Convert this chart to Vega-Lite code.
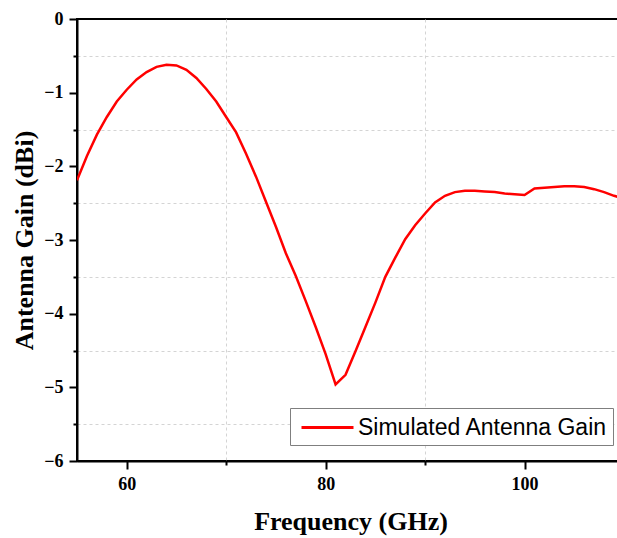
{
  "$schema": "https://vega.github.io/schema/vega-lite/v6.json",
  "autosize": "none",
  "padding": {"left": 77, "top": 19, "right": 0, "bottom": 77},
  "width": 547,
  "height": 442,
  "background": "white",
  "config": {
    "view": {"stroke": "black", "strokeWidth": 2},
    "axis": {
      "domainColor": "black",
      "domainWidth": 2,
      "tickColor": "black",
      "tickWidth": 2,
      "labelFont": "Liberation Serif",
      "labelFontWeight": "bold",
      "labelFontSize": 18,
      "labelColor": "black",
      "titleFont": "Liberation Serif",
      "titleFontWeight": "bold",
      "titleFontSize": 26,
      "titleColor": "black",
      "gridColor": "#d4d4d4",
      "gridDash": [3, 3],
      "gridWidth": 1
    }
  },
  "data": {
    "values": [
      {"f": 55, "g": -2.19, "s": "Simulated Antenna Gain"},
      {"f": 56, "g": -1.86, "s": "Simulated Antenna Gain"},
      {"f": 57, "g": -1.57, "s": "Simulated Antenna Gain"},
      {"f": 58, "g": -1.33, "s": "Simulated Antenna Gain"},
      {"f": 59, "g": -1.12, "s": "Simulated Antenna Gain"},
      {"f": 60, "g": -0.96, "s": "Simulated Antenna Gain"},
      {"f": 61, "g": -0.82, "s": "Simulated Antenna Gain"},
      {"f": 62, "g": -0.72, "s": "Simulated Antenna Gain"},
      {"f": 63, "g": -0.65, "s": "Simulated Antenna Gain"},
      {"f": 64, "g": -0.62, "s": "Simulated Antenna Gain"},
      {"f": 65, "g": -0.63, "s": "Simulated Antenna Gain"},
      {"f": 66, "g": -0.69, "s": "Simulated Antenna Gain"},
      {"f": 67, "g": -0.80, "s": "Simulated Antenna Gain"},
      {"f": 68, "g": -0.95, "s": "Simulated Antenna Gain"},
      {"f": 69, "g": -1.12, "s": "Simulated Antenna Gain"},
      {"f": 70, "g": -1.33, "s": "Simulated Antenna Gain"},
      {"f": 71, "g": -1.54, "s": "Simulated Antenna Gain"},
      {"f": 72, "g": -1.83, "s": "Simulated Antenna Gain"},
      {"f": 73, "g": -2.14, "s": "Simulated Antenna Gain"},
      {"f": 74, "g": -2.48, "s": "Simulated Antenna Gain"},
      {"f": 75, "g": -2.82, "s": "Simulated Antenna Gain"},
      {"f": 76, "g": -3.18, "s": "Simulated Antenna Gain"},
      {"f": 77, "g": -3.49, "s": "Simulated Antenna Gain"},
      {"f": 78, "g": -3.83, "s": "Simulated Antenna Gain"},
      {"f": 79, "g": -4.18, "s": "Simulated Antenna Gain"},
      {"f": 80, "g": -4.55, "s": "Simulated Antenna Gain"},
      {"f": 81, "g": -4.96, "s": "Simulated Antenna Gain"},
      {"f": 82, "g": -4.83, "s": "Simulated Antenna Gain"},
      {"f": 83, "g": -4.51, "s": "Simulated Antenna Gain"},
      {"f": 84, "g": -4.18, "s": "Simulated Antenna Gain"},
      {"f": 85, "g": -3.85, "s": "Simulated Antenna Gain"},
      {"f": 86, "g": -3.50, "s": "Simulated Antenna Gain"},
      {"f": 87, "g": -3.24, "s": "Simulated Antenna Gain"},
      {"f": 88, "g": -2.99, "s": "Simulated Antenna Gain"},
      {"f": 89, "g": -2.80, "s": "Simulated Antenna Gain"},
      {"f": 90, "g": -2.64, "s": "Simulated Antenna Gain"},
      {"f": 91, "g": -2.49, "s": "Simulated Antenna Gain"},
      {"f": 92, "g": -2.40, "s": "Simulated Antenna Gain"},
      {"f": 93, "g": -2.35, "s": "Simulated Antenna Gain"},
      {"f": 94, "g": -2.33, "s": "Simulated Antenna Gain"},
      {"f": 95, "g": -2.33, "s": "Simulated Antenna Gain"},
      {"f": 96, "g": -2.34, "s": "Simulated Antenna Gain"},
      {"f": 97, "g": -2.35, "s": "Simulated Antenna Gain"},
      {"f": 98, "g": -2.37, "s": "Simulated Antenna Gain"},
      {"f": 99, "g": -2.38, "s": "Simulated Antenna Gain"},
      {"f": 100, "g": -2.39, "s": "Simulated Antenna Gain"},
      {"f": 101, "g": -2.30, "s": "Simulated Antenna Gain"},
      {"f": 102, "g": -2.29, "s": "Simulated Antenna Gain"},
      {"f": 103, "g": -2.28, "s": "Simulated Antenna Gain"},
      {"f": 104, "g": -2.27, "s": "Simulated Antenna Gain"},
      {"f": 105, "g": -2.27, "s": "Simulated Antenna Gain"},
      {"f": 106, "g": -2.28, "s": "Simulated Antenna Gain"},
      {"f": 107, "g": -2.31, "s": "Simulated Antenna Gain"},
      {"f": 108, "g": -2.35, "s": "Simulated Antenna Gain"},
      {"f": 109, "g": -2.40, "s": "Simulated Antenna Gain"},
      {"f": 110, "g": -2.44, "s": "Simulated Antenna Gain"}
    ]
  },
  "mark": {"type": "line", "strokeWidth": 2.5, "clip": true},
  "encoding": {
    "x": {
      "field": "f",
      "type": "quantitative",
      "scale": {"domain": [55, 110], "nice": false, "zero": false},
      "axis": {
        "title": "Frequency (GHz)",
        "values": [60, 70, 80, 90, 100, 110],
        "labelExpr": "datum.value % 20 == 0 ? datum.label : ''",
        "tickSize": {"expr": "datum.value % 20 == 0 ? 8 : 4"},
        "grid": true,
        "gridOpacity": {"expr": "datum.value % 20 == 10 ? 1 : 0"},
        "labelPadding": 6,
        "titlePadding": 15
      }
    },
    "y": {
      "field": "g",
      "type": "quantitative",
      "scale": {"domain": [-6, 0], "nice": false, "zero": false},
      "axis": {
        "title": "Antenna Gain (dBi)",
        "values": [-6, -5.5, -5, -4.5, -4, -3.5, -3, -2.5, -2, -1.5, -1, -0.5, 0],
        "labelExpr": "datum.value % 1 == 0 ? format(datum.value, 'd') : ''",
        "tickSize": {"expr": "datum.value % 1 == 0 ? 8 : 4"},
        "grid": true,
        "gridOpacity": {"expr": "datum.value % 1 == 0 ? 0 : 1"},
        "labelPadding": 6,
        "titlePadding": 6
      }
    },
    "color": {
      "field": "s",
      "type": "nominal",
      "scale": {"range": ["#ff0000"]},
      "legend": {
        "title": null,
        "orient": "none",
        "legendX": 213,
        "legendY": 389,
        "symbolType": "M-2,0H2",
        "symbolSize": 676,
        "symbolStrokeWidth": 3,
        "symbolOffset": 18,
        "labelFont": "Liberation Sans",
        "labelFontSize": 23,
        "labelColor": "black",
        "labelLimit": 400,
        "labelOffset": 16,
        "strokeColor": "#7f7f7f",
        "fillColor": "white",
        "padding": 5
      }
    }
  }
}
